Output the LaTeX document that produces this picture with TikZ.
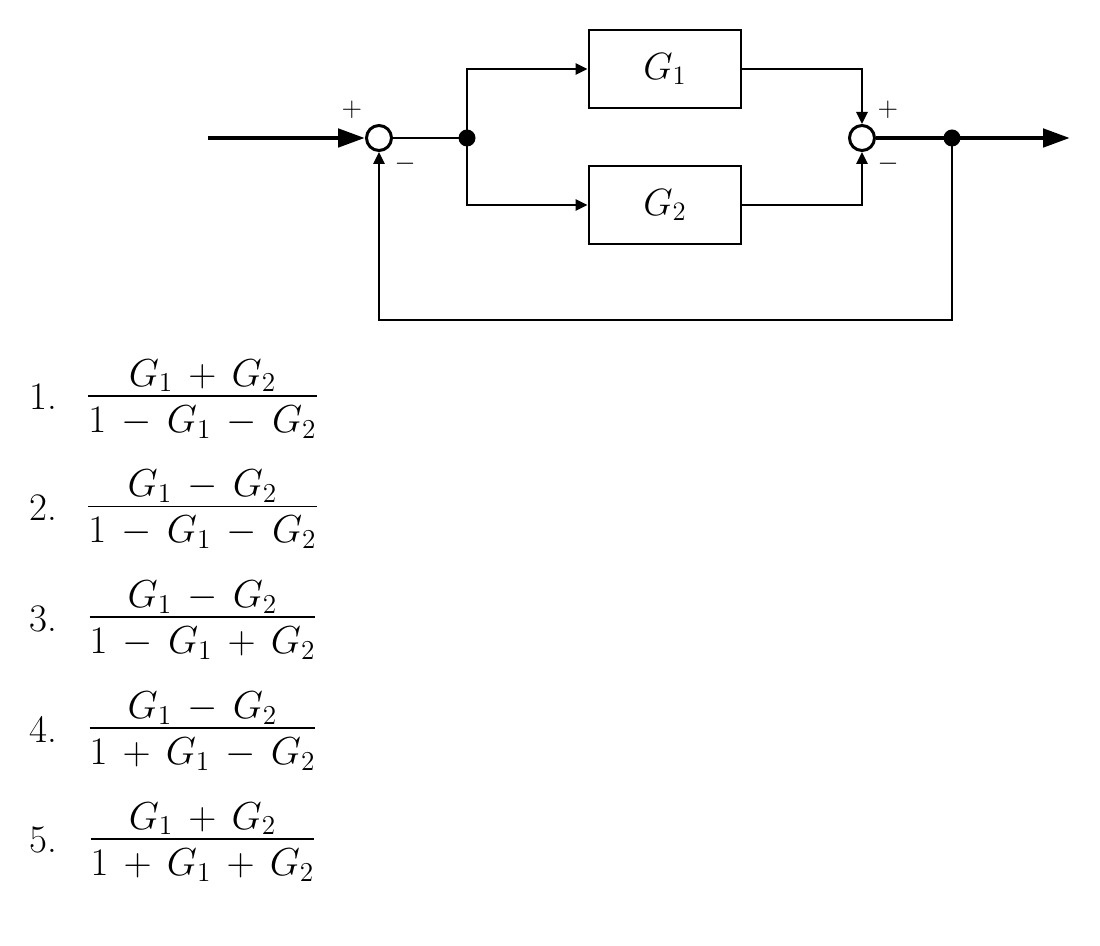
\RequirePackage{fix-cm}
\documentclass[tikz,border=0pt]{standalone}
\usepackage{amsmath}
\usetikzlibrary{arrows.meta,positioning}
\newcommand{\qfrac}[2]{\medmuskip=7mu\relax\dfrac{\smash[b]{\lower3.5pt\hbox{$\displaystyle\medmuskip=7mu\relax #1$}}}{#2}}
\tikzset{
	blk/.style={draw, line width=1.4pt, minimum width=76pt, minimum height=39pt, inner sep=0pt, font=\fontsize{19}{22}\selectfont},
	sumpt/.style={circle, draw, line width=1.5pt, minimum size=12.5pt, inner sep=0pt},
	dotpt/.style={circle, fill, minimum size=8.5pt, inner sep=0pt},
	wire/.style={line width=1.3pt},
	sig/.style={wire, -{Triangle[length=6pt,width=5.5pt]}},
	big/.style={line width=2.4pt, -{Triangle[length=13.5pt,width=9pt]}},
	sgn/.style={font=\fontsize{13.5}{15}\selectfont, inner sep=0pt},
	choice/.style={font=\fontsize{19.5}{22}\selectfont, inner sep=0pt}
}
\begin{document}
\begin{tikzpicture}[x=0.5pt,y=-0.5pt]
		\useasboundingbox (0,0) rectangle (1100,946);
		\coordinate (in) at (208,138);
		\coordinate (out) at (1070,138);
		\coordinate (fb) at (0,320);
		\node[sumpt] (sa) at (379,138) {};
		\node[dotpt] (ja) at (467,138) {};
		\node[blk] (ga) at (665,69) {$G_1$};
		\node[blk] (gb) at (665,205) {$G_2$};
		\node[sumpt] (sb) at (862,138) {};
		\node[dotpt] (jb) at (952,138) {};
		\node[sgn] (pa) at (352,110) {$+$};
		\node[sgn] (ma) at (405,164) {$-$};
		\node[sgn] (pb) at (888,110) {$+$};
		\node[sgn] (mb) at (888,164) {$-$};
		\draw[big] (in) -- (sa.west);
		\draw[wire] (sa.east) -- (ja.center);
		\draw[sig] (ja.center) |- (ga.west);
		\draw[sig] (ja.center) |- (gb.west);
		\draw[sig] (ga.east) -| (sb.north);
		\draw[sig] (gb.east) -| (sb.south);
		\draw[big] (sb.east) -- (out);
		\draw[sig] (jb.center) -- (jb |- fb) -| (sa.south);
		\foreach \nm/\dn [count=\k] in {G_1+G_2/1-G_1-G_2, G_1-G_2/1-G_1-G_2, G_1-G_2/1-G_1+G_2, G_1-G_2/1+G_1-G_2, G_1+G_2/1+G_1+G_2}
		{
			\node[choice, anchor=base west] (n\k) at (29, {410+(\k-1)*110.75}) {\k.};
			\node[choice, anchor=base] (f\k) at (202.5, {405.5+(\k-1)*110.75}) {$\qfrac{\nm}{\dn}$};
		}
\end{tikzpicture}
\end{document}
